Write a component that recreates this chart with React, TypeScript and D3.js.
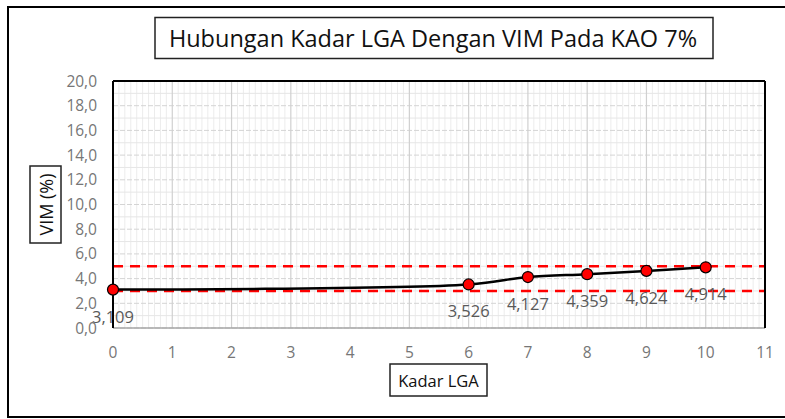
import React from "react";
import * as d3 from "d3";

const xValues = [0, 6, 7, 8, 9, 10];
const vimValues = [3.109, 3.526, 4.127, 4.359, 4.624, 4.914];
const dataLabels = ["3,109", "3,526", "4,127", "4,359", "4,624", "4,914"];
const limitLines = [3, 5];
const xTicks = [0, 1, 2, 3, 4, 5, 6, 7, 8, 9, 10, 11];
const yTicks = [0, 2, 4, 6, 8, 10, 12, 14, 16, 18, 20];
const title = "Hubungan Kadar LGA Dengan VIM Pada KAO 7%";
const xTitle = "Kadar LGA";
const yTitle = "VIM (%)";

const W = 785;
const H = 419;
const FONT = "'Open Sans', 'Noto Sans', sans-serif";

export default function App() {
  const left = 113, right = 765, top = 81, bottom = 328;
  const x = d3.scaleLinear().domain([0, 11]).range([left, right]);
  const y = d3.scaleLinear().domain([0, 20]).range([bottom, top]);
  const fmt = (v: number) => v.toFixed(1).replace(".", ",");

  const minorX = d3.range(0, 110).map((i) => i / 10).filter((v) => Math.abs(v - Math.round(v)) > 1e-6);
  const minorY = d3.range(1, 20, 2);

  const pts: [number, number][] = xValues.map((v, i) => [x(v), y(vimValues[i])]);
  const line = d3.line().curve(d3.curveCatmullRom.alpha(0.5))(pts) || "";

  return (
    <svg width={W} height={H} style={{ position: "absolute", left: 0, top: 0, background: "#fff" }}>
      <rect x={8} y={7} width={W} height={410} fill="#fff" stroke="#000" strokeWidth={2} />
      {/* title */}
      <rect x={155} y={17.5} width={558} height={41} fill="#fff" stroke="#222" strokeWidth={1.5} />
      <text x={433} y={47} textAnchor="middle" fontFamily={FONT} fontSize={23.5} fill="#111">{title}</text>

      {/* grid */}
      {minorX.map((v) => (
        <line key={"mx" + v} x1={x(v)} x2={x(v)} y1={top} y2={bottom} stroke="#ececec" strokeWidth={1} />
      ))}
      {minorY.map((v) => (
        <line key={"my" + v} x1={left} x2={right} y1={y(v)} y2={y(v)} stroke="#e6e6e6" strokeWidth={1} />
      ))}
      {yTicks.map((v) => (
        <line key={"gy" + v} x1={left} x2={right} y1={y(v)} y2={y(v)} stroke="#d4d4d4" strokeWidth={1} strokeDasharray="5,2" />
      ))}
      {xTicks.map((v) => (
        <line key={"gx" + v} x1={x(v)} x2={x(v)} y1={top} y2={bottom} stroke="#d0d0d0" strokeWidth={1.2} />
      ))}

      {/* limit lines */}
      {limitLines.map((v) => (
        <line key={"lim" + v} x1={left} x2={right} y1={y(v)} y2={y(v)} stroke="#ff0000" strokeWidth={2.5} strokeDasharray="10,7" />
      ))}

      {/* plot border */}
      <line x1={left} x2={right} y1={bottom} y2={bottom} stroke="#a6a6a6" strokeWidth={1.5} />
      <line x1={left} x2={right} y1={top} y2={top} stroke="#000" strokeWidth={2} />
      <line x1={right} x2={right} y1={top} y2={bottom} stroke="#000" strokeWidth={2} />
      <line x1={left} x2={left} y1={top} y2={bottom} stroke="#000" strokeWidth={2} />

      {/* data */}
      <path d={line} fill="none" stroke="#000" strokeWidth={2.5} />
      {pts.map((p, i) => (
        <circle key={"p" + i} cx={p[0]} cy={p[1]} r={5.5} fill="#ff0000" stroke="#000" strokeWidth={1.2} />
      ))}
      {pts.map((p, i) => (
        <text key={"dl" + i} x={p[0]} y={p[1] + 33} textAnchor="middle" fontFamily={FONT} fontSize={16.5} fill="#595959">{dataLabels[i]}</text>
      ))}

      {/* axes labels */}
      {yTicks.map((v) => (
        <text key={"yt" + v} x={97} y={y(v) + 5.5} textAnchor="end" fontFamily={FONT} fontSize={15.5} fill="#767676">{fmt(v)}</text>
      ))}
      {xTicks.map((v) => (
        <text key={"xt" + v} x={x(v)} y={358} textAnchor="middle" fontFamily={FONT} fontSize={15.5} fill="#767676">{v}</text>
      ))}

      {/* axis titles */}
      <rect x={390} y={364} width={97} height={32} fill="#fff" stroke="#222" strokeWidth={1.5} />
      <text x={438.5} y={386.5} textAnchor="middle" fontFamily={FONT} fontSize={16.5} fill="#111">{xTitle}</text>
      <rect x={30} y={166} width={31} height={77} fill="#fff" stroke="#222" strokeWidth={1.5} />
      <text transform="translate(52.5,204.5) rotate(-90)" textAnchor="middle" fontFamily={FONT} fontSize={18} fill="#111">{yTitle}</text>
    </svg>
  );
}
